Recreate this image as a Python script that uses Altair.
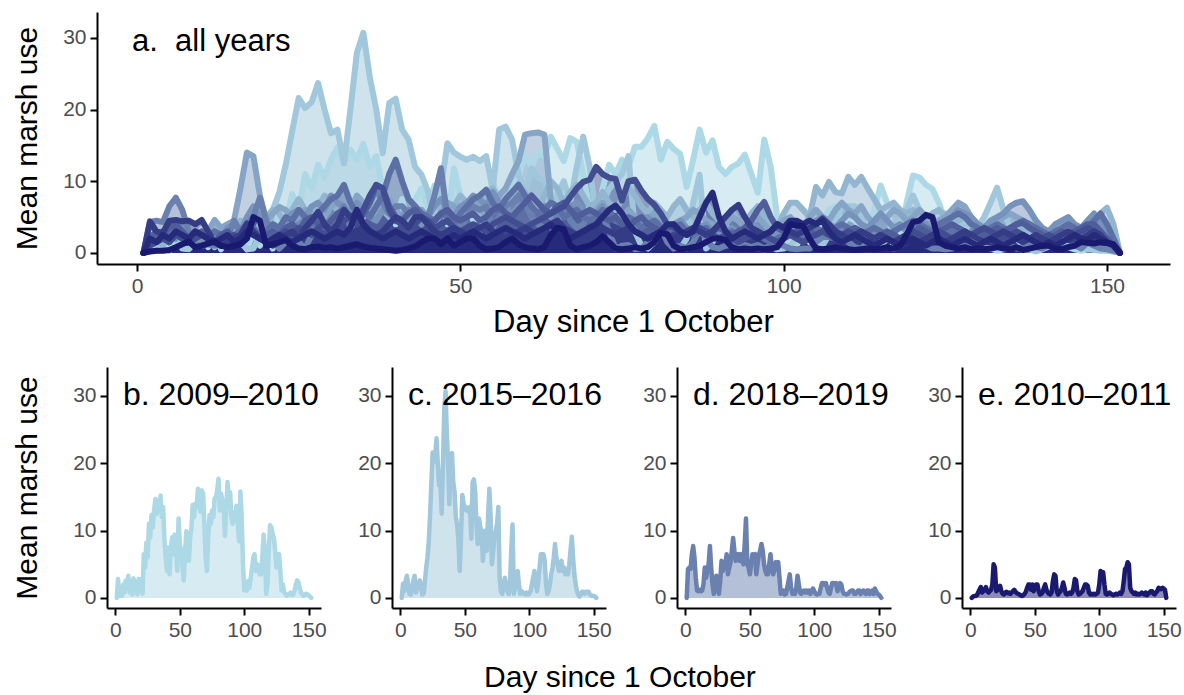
import altair as alt
import pandas as pd

FONT = "Liberation Sans"

DAYS = list(range(1, 153))

# seasons ordered from highest (lightest colour) to lowest (darkest colour) marsh use
SEASONS = ["2009–2010", "2015–2016", "2016–2017", "2012–2013", "2019–2020", "2018–2019",
           "2013–2014", "2017–2018", "2014–2015", "2011–2012", "2008–2009", "2010–2011"]
COLORS = ["#ADD8E6", "#A0C7DB", "#92B5D0", "#85A4C6", "#7792BB", "#6A81B0",
          "#5C70A6", "#4F5E9B", "#414D90", "#343C86", "#262A7B", "#191970"]

USE_2009_2010 = [0, 2.8, 0.3, 1.2, 0.3, 2.0, 0.8, 2.6, 1.5, 3.3,
                 0.8, 2.5, 0.5, 2.9, 1.2, 2.4, 0.5, 2.8, 1.0, 2.8,
                 0.6, 6.5, 4.5, 8.2, 6.0, 11.0, 9.0, 12.3, 10.5, 13.0,
                 14.7, 12.5, 14.4, 13.0, 15.2, 12.0, 13.5, 8.9, 6.0, 4.0,
                 7.5, 3.5, 7.4, 9.0, 6.5, 9.4, 7.5, 4.0, 11.8, 8.0,
                 7.0, 4.5, 2.6, 6.5, 9.9, 7.5, 5.5, 9.0, 10.5, 13.8,
                 12.0, 14.0, 13.5, 16.2, 14.5, 12.8, 16.0, 15.5, 11.0, 6.0,
                 4.0, 9.0, 12.3, 11.0, 13.0, 12.0, 14.8, 14.8, 16.0, 17.7,
                 13.0, 15.5, 14.5, 13.8, 9.2, 13.0, 17.2, 14.0, 15.7, 12.0,
                 11.0, 12.0, 12.5, 13.7, 11.0, 8.4, 15.8, 12.0, 5.0, 1.1,
                 2.0, 1.1, 2.5, 1.5, 3.0, 4.5, 6.0, 6.5, 4.0, 5.0,
                 4.5, 3.5, 3.5, 6.0, 9.4, 7.0, 0.6, 2.0, 7.0, 10.8,
                 10.5, 9.5, 8.9, 7.0, 4.5, 5.5, 6.5, 4.0, 1.1, 2.0,
                 0.8, 0.6, 0.3, 0.5, 0.6, 0.8, 0.4, 0.5, 1.0, 2.0,
                 2.6, 2.4, 1.5, 0.8, 0.5, 0.3, 0.5, 0.6, 0.5, 0.4,
                 0.2, 0.0]

USE_2015_2016 = [0, 2.1, 1.0, 2.5, 3.3, 2.0, 0.6, 0.5, 1.5, 2.5,
                 3.3, 0.8, 1.5, 2.0, 2.6, 1.5, 0.5, 0.6, 2.5, 4.5,
                 6.0, 8.4, 12.3, 17.0, 21.6, 20.2, 21.0, 23.7, 20.0, 16.7,
                 17.2, 12.5, 20.0, 27.9, 30.7, 24.5, 20.0, 13.9, 20.9, 21.5,
                 17.2, 15.8, 12.0, 10.9, 8.6, 4.0, 9.0, 15.3, 14.0, 13.4,
                 13.0, 13.4, 12.8, 13.5, 8.8, 17.2, 17.6, 15.8, 10.9, 8.0,
                 11.8, 10.5, 9.9, 5.5, 8.0, 10.0, 7.0, 12.0, 16.2, 12.0,
                 5.0, 7.0, 8.9, 10.0, 11.0, 13.5, 3.0, 1.0, 0.6, 1.5,
                 3.0, 2.0, 1.0, 0.6, 2.0, 7.0, 10.9, 0.6, 1.5, 3.0,
                 4.0, 2.0, 0.6, 1.0, 0.8, 0.6, 0.5, 0.8, 0.5, 0.6,
                 1.0, 2.0, 3.0, 4.0, 2.0, 1.0, 2.5, 4.5, 6.5, 6.5,
                 6.5, 5.5, 2.0, 0.6, 1.0, 2.0, 3.5, 4.5, 6.0, 8.0,
                 6.0, 5.0, 4.0, 4.5, 5.5, 4.0, 4.5, 3.5, 4.0, 3.5,
                 5.0, 7.0, 9.1, 6.0, 3.5, 2.0, 1.0, 0.5, 0.2, 0.5,
                 0.9, 0.9, 0.6, 0.9, 0.9, 0.9, 0.5, 0.4, 0.3, 0.3,
                 0.2, 0.0]

USE_2016_2017 = [0, 1.5, 2.0, 1.0, 2.5, 3.0, 2.0, 1.5, 2.0, 3.0,
                 2.5, 3.5, 3.0, 2.0, 3.5, 4.5, 3.0, 2.5, 4.0, 5.0,
                 6.0, 5.5, 4.0, 6.0, 7.5, 6.0, 5.0, 6.5, 8.0, 7.0,
                 6.0, 5.5, 7.0, 6.5, 5.0, 6.0, 7.5, 6.0, 5.0, 4.5,
                 5.5, 6.0, 5.0, 4.0, 5.5, 7.0, 6.0, 5.0, 6.5, 8.0,
                 7.0, 6.5, 5.5, 8.0, 9.0, 7.5, 6.0, 8.0, 9.5, 8.5,
                 7.0, 6.0, 8.0, 10.0, 9.0, 7.0, 8.5, 9.5, 8.0, 6.5,
                 7.0, 8.5, 7.0, 6.0, 7.5, 9.0, 8.0, 6.5, 5.5, 7.0,
                 6.0, 5.0, 6.5, 7.5, 6.0, 5.0, 6.0, 7.0, 5.5, 4.5,
                 5.0, 6.0, 4.5, 4.0, 5.5, 6.5, 5.0, 4.0, 3.5, 5.5,
                 7.0, 7.0, 6.0, 5.0, 9.2, 8.0, 9.9, 8.5, 8.3, 10.6,
                 9.5, 10.6, 9.0, 7.5, 6.0, 6.5, 7.0, 6.0, 5.5, 6.0,
                 5.0, 4.5, 5.5, 6.0, 5.0, 4.0, 4.5, 5.0, 4.0, 3.5,
                 3.0, 3.5, 4.0, 3.0, 2.5, 3.0, 3.5, 2.5, 2.0, 2.5,
                 3.0, 2.5, 2.0, 3.0, 3.5, 2.5, 3.0, 4.5, 5.5, 6.3,
                 4.0, 0.0]

USE_2012_2013 = [0, 2.0, 3.0, 2.5, 4.0, 3.5, 2.0, 1.5, 2.5, 2.0,
                 3.0, 4.6, 3.5, 4.0, 4.5, 9.0, 14.0, 13.5, 8.0, 4.5,
                 5.5, 6.4, 6.0, 4.5, 5.0, 6.0, 5.5, 4.0, 5.0, 6.5,
                 7.0, 5.5, 6.0, 8.0, 7.0, 6.0, 5.0, 6.5, 7.5, 6.0,
                 5.0, 4.5, 5.5, 6.0, 5.0, 4.0, 5.5, 7.0, 6.5, 5.5,
                 6.0, 7.5, 6.5, 5.0, 6.0, 8.0, 9.0, 11.0, 12.8, 16.5,
                 16.7, 16.8, 16.5, 7.3, 6.0, 5.0, 6.5, 7.0, 5.5, 5.0,
                 6.0, 7.0, 5.5, 4.5, 5.0, 6.0, 5.0, 4.0, 4.5, 5.5,
                 5.0, 4.0, 3.5, 4.5, 5.0, 6.0, 5.5, 4.5, 4.0, 3.5,
                 4.0, 5.0, 4.5, 3.5, 4.0, 5.0, 4.0, 3.0, 3.5, 4.5,
                 5.0, 4.0, 3.5, 5.0, 6.0, 5.0, 4.5, 6.0, 7.0, 6.0,
                 5.5, 6.5, 5.0, 4.0, 4.5, 5.0, 6.0, 5.5, 4.5, 5.0,
                 6.0, 5.0, 4.0, 4.5, 5.0, 6.0, 7.0, 6.5, 5.0, 4.0,
                 3.5, 4.0, 4.5, 5.0, 5.5, 5.0, 4.5, 4.0, 3.5, 3.0,
                 3.0, 2.5, 3.5, 4.0, 3.5, 3.0, 4.0, 5.0, 4.0, 3.0,
                 2.0, 0.0]

USE_2019_2020 = [0, 1.0, 2.0, 3.0, 2.5, 2.0, 3.5, 3.0, 2.0, 1.5,
                 2.5, 3.0, 2.0, 3.5, 4.0, 3.0, 5.0, 6.5, 5.0, 3.5,
                 4.0, 3.0, 4.5, 5.5, 6.0, 5.0, 6.5, 7.0, 6.0, 8.0,
                 7.0, 6.5, 5.5, 7.0, 6.0, 5.0, 4.5, 6.0, 5.5, 4.5,
                 5.0, 6.0, 5.5, 4.0, 5.0, 6.5, 7.5, 6.0, 5.0, 6.5,
                 7.0, 8.0, 7.5, 6.5, 8.5, 7.0, 6.0, 5.5, 6.5, 7.0,
                 6.0, 5.5, 6.5, 5.0, 4.5, 5.5, 6.5, 7.0, 6.0, 5.0,
                 5.5, 6.5, 5.0, 4.5, 5.5, 4.0, 3.5, 4.5, 5.0, 4.0,
                 3.5, 3.0, 4.0, 4.5, 3.5, 3.0, 3.5, 4.0, 3.0, 2.5,
                 3.0, 3.5, 2.5, 3.0, 4.0, 3.5, 2.5, 2.0, 3.0, 3.5,
                 4.0, 3.0, 2.5, 3.5, 4.5, 5.0, 4.0, 3.5, 4.5, 5.5,
                 5.0, 4.0, 3.5, 4.5, 5.5, 4.5, 3.5, 4.0, 3.0, 3.5,
                 4.5, 4.0, 3.0, 3.5, 4.0, 5.0, 6.0, 5.5, 5.0, 4.0,
                 3.5, 4.5, 5.0, 5.5, 6.5, 7.0, 7.2, 6.0, 4.5, 3.5,
                 3.0, 4.0, 4.5, 5.0, 4.0, 3.5, 4.5, 5.5, 4.0, 2.5,
                 1.5, 0.0]

USE_2018_2019 = [0, 4.3, 4.5, 4.3, 6.5, 7.7, 6.0, 3.0, 1.1, 1.0,
                 1.2, 1.0, 1.1, 2.0, 4.5, 3.0, 4.0, 5.0, 7.7, 4.5,
                 2.0, 0.6, 1.5, 3.3, 1.5, 0.6, 2.5, 5.5, 4.0, 4.5,
                 5.0, 6.5, 3.5, 4.5, 5.3, 7.0, 8.9, 7.0, 5.5, 6.5,
                 6.5, 5.5, 6.5, 5.5, 5.0, 8.0, 11.8, 5.0, 4.5, 3.5,
                 5.0, 6.5, 6.0, 6.5, 3.5, 5.0, 6.5, 7.0, 8.0, 7.0,
                 5.0, 4.0, 3.5, 3.5, 5.0, 6.5, 4.5, 3.5, 4.0, 5.3,
                 5.0, 5.3, 3.0, 0.6, 1.0, 1.1, 0.5, 0.6, 1.5, 2.5,
                 3.5, 1.5, 0.6, 1.0, 0.6, 1.5, 3.3, 2.0, 0.8, 0.6,
                 1.0, 1.1, 0.8, 1.1, 0.8, 1.1, 0.6, 1.0, 1.4, 1.0,
                 0.6, 0.5, 0.6, 0.6, 1.5, 2.2, 2.2, 2.0, 2.2, 1.5,
                 0.8, 0.6, 1.5, 2.2, 2.2, 2.0, 2.2, 1.0, 1.5, 2.2,
                 2.0, 1.0, 0.6, 0.6, 0.5, 0.6, 0.8, 1.0, 1.1, 1.1,
                 0.6, 0.6, 0.8, 1.1, 1.1, 0.6, 0.8, 1.1, 0.8, 0.6,
                 1.1, 1.1, 0.6, 0.8, 1.1, 0.6, 1.4, 1.0, 0.6, 0.5,
                 0.3, 0.0]

USE_2013_2014 = [0, 1.5, 2.5, 3.0, 2.0, 3.5, 2.5, 2.0, 3.0, 2.5,
                 2.0, 3.0, 2.5, 1.5, 2.5, 3.0, 4.0, 3.5, 2.5, 3.0,
                 4.0, 3.5, 5.0, 4.5, 6.0, 5.0, 4.0, 5.5, 6.5, 7.5,
                 8.0, 9.5, 7.0, 5.5, 6.0, 5.0, 6.5, 8.0, 11.0, 13.0,
                 10.0, 7.5, 6.5, 5.5, 5.0, 4.5, 5.5, 5.0, 4.0, 5.5,
                 6.5, 7.5, 8.0, 8.8, 7.0, 6.0, 7.5, 8.5, 9.5, 8.0,
                 6.5, 5.5, 6.0, 7.0, 6.5, 5.0, 5.5, 6.0, 5.0, 4.5,
                 5.0, 6.0, 5.5, 4.5, 4.0, 5.0, 4.5, 3.5, 4.0, 4.5,
                 3.5, 3.0, 3.5, 4.0, 3.0, 2.5, 3.0, 3.5, 2.5, 2.0,
                 2.5, 3.0, 2.0, 2.5, 3.0, 2.5, 2.0, 1.5, 2.0, 2.5,
                 3.0, 2.5, 2.0, 3.0, 3.5, 3.0, 2.5, 3.5, 4.0, 3.5,
                 3.0, 2.5, 3.0, 3.5, 3.0, 2.5, 3.0, 3.5, 4.0, 4.5,
                 4.0, 3.5, 3.0, 4.0, 4.5, 5.0, 5.5, 5.0, 4.0, 3.5,
                 3.0, 3.5, 4.0, 3.5, 3.0, 4.0, 4.5, 4.0, 3.5, 3.0,
                 2.5, 3.0, 3.5, 4.0, 3.5, 3.0, 3.5, 4.5, 5.5, 4.0,
                 2.0, 0.0]

USE_2017_2018 = [0, 2.0, 3.0, 2.5, 3.5, 4.0, 3.0, 2.0, 2.5, 3.0,
                 2.0, 1.5, 2.5, 3.0, 2.0, 2.5, 3.5, 3.0, 2.0, 2.5,
                 3.0, 2.5, 3.5, 4.0, 3.0, 4.5, 5.0, 4.0, 3.5, 4.5,
                 5.5, 6.0, 5.0, 4.0, 5.5, 7.0, 9.5, 9.0, 6.5, 5.0,
                 4.5, 5.5, 6.0, 5.0, 4.0, 4.5, 5.5, 6.0, 5.0, 4.5,
                 5.0, 5.5, 4.5, 5.0, 6.0, 6.5, 5.5, 5.0, 6.0, 7.0,
                 8.0, 7.0, 6.0, 5.5, 6.5, 7.0, 6.0, 5.0, 5.5, 6.0,
                 5.5, 5.0, 4.5, 5.0, 4.0, 3.5, 4.5, 5.0, 4.0, 3.5,
                 3.0, 3.5, 4.0, 3.0, 2.5, 3.0, 3.5, 2.5, 3.0, 3.5,
                 3.0, 2.5, 3.0, 3.5, 4.5, 6.0, 7.1, 5.0, 3.5, 3.0,
                 2.5, 3.0, 3.5, 3.0, 2.5, 3.0, 2.5, 2.0, 2.5, 3.0,
                 3.5, 3.0, 2.5, 2.0, 2.5, 3.0, 2.5, 2.0, 2.5, 3.0,
                 3.5, 3.0, 2.5, 3.0, 3.5, 4.0, 3.5, 3.0, 2.5, 3.0,
                 2.5, 3.0, 3.5, 3.0, 3.5, 4.0, 4.2, 3.5, 3.0, 2.5,
                 2.0, 2.5, 3.0, 2.5, 3.0, 3.5, 4.0, 4.0, 3.0, 2.0,
                 1.0, 0.0]

USE_2014_2015 = [0, 1.0, 1.5, 2.0, 1.5, 2.5, 2.0, 1.5, 2.0, 2.5,
                 2.0, 1.5, 1.0, 2.0, 2.5, 2.0, 3.0, 2.5, 2.0, 1.5,
                 2.0, 2.5, 3.0, 2.5, 3.5, 3.0, 2.5, 3.5, 4.0, 3.0,
                 3.5, 4.5, 5.0, 4.0, 6.0, 8.0, 9.5, 9.0, 6.0, 4.5,
                 4.0, 3.5, 4.0, 5.0, 4.5, 3.5, 4.0, 4.5, 3.5, 3.0,
                 3.5, 4.0, 3.5, 3.0, 4.0, 4.5, 5.0, 4.5, 4.0, 3.5,
                 4.0, 4.5, 5.0, 5.5, 6.0, 6.5, 7.8, 9.0, 9.9, 10.2,
                 12.0, 11.0, 10.5, 10.3, 7.3, 10.0, 10.2, 8.7, 7.5, 6.7,
                 5.5, 4.0, 3.5, 3.0, 2.5, 3.0, 3.5, 3.0, 2.5, 2.0,
                 2.5, 2.0, 1.5, 2.0, 2.5, 3.0, 2.5, 2.0, 1.5, 2.0,
                 2.5, 2.0, 1.5, 2.0, 2.5, 3.0, 2.5, 2.0, 2.5, 3.0,
                 2.5, 2.0, 1.5, 2.0, 2.5, 2.0, 1.5, 2.0, 2.5, 3.0,
                 2.5, 2.0, 2.5, 3.0, 2.5, 2.0, 1.5, 2.0, 2.5, 3.0,
                 3.5, 3.0, 2.5, 2.0, 2.5, 3.0, 2.5, 2.0, 1.5, 2.0,
                 2.5, 2.0, 1.5, 2.0, 2.5, 3.0, 3.5, 3.0, 2.0, 1.5,
                 1.0, 0.0]

USE_2011_2012 = [0, 4.4, 3.0, 2.8, 4.5, 4.6, 4.4, 4.5, 4.0, 4.6,
                 3.0, 1.4, 1.0, 1.5, 2.0, 2.5, 4.1, 3.0, 2.0, 1.5,
                 1.0, 1.5, 2.5, 3.0, 2.0, 3.5, 4.5, 5.7, 4.0, 3.0,
                 4.0, 6.0, 5.0, 5.6, 4.0, 3.0, 2.5, 3.0, 4.0, 5.0,
                 4.5, 3.5, 5.0, 5.0, 4.0, 3.0, 2.5, 3.0, 3.5, 3.0,
                 2.5, 3.0, 3.5, 4.0, 3.0, 2.5, 2.0, 2.5, 3.0, 3.5,
                 3.0, 2.5, 3.0, 4.0, 4.5, 3.5, 3.0, 2.5, 3.0, 3.5,
                 4.0, 3.5, 3.0, 2.5, 3.0, 3.5, 3.0, 2.5, 2.0, 2.5,
                 3.0, 2.5, 2.0, 2.5, 3.0, 3.5, 3.0, 2.5, 3.0, 4.0,
                 5.0, 6.0, 6.7, 5.0, 3.5, 3.0, 2.5, 3.0, 4.0, 3.5,
                 3.0, 2.5, 3.0, 3.5, 4.0, 4.8, 4.0, 3.0, 2.5, 2.0,
                 2.5, 3.0, 2.5, 2.0, 2.5, 2.0, 1.5, 2.0, 2.5, 2.0,
                 1.5, 2.0, 2.5, 2.0, 1.5, 2.0, 2.5, 3.0, 2.5, 2.0,
                 1.5, 2.0, 2.5, 3.0, 2.5, 2.0, 1.5, 2.0, 2.5, 2.0,
                 1.5, 2.0, 2.5, 3.0, 2.5, 2.0, 2.5, 3.0, 2.5, 1.5,
                 1.0, 0.0]

USE_2008_2009 = [0, 2.0, 1.5, 2.5, 2.0, 3.0, 2.5, 2.0, 3.0, 2.5,
                 2.0, 1.5, 2.0, 2.5, 1.5, 2.0, 3.0, 2.5, 2.0, 1.5,
                 2.0, 2.5, 2.0, 1.5, 2.0, 2.5, 3.0, 2.5, 2.0, 2.5,
                 3.0, 2.5, 3.5, 6.0, 4.0, 3.0, 2.5, 2.0, 2.5, 3.0,
                 2.5, 2.0, 2.5, 3.0, 2.5, 2.0, 1.5, 2.0, 2.5, 2.0,
                 2.5, 3.0, 2.5, 2.0, 2.5, 3.0, 3.5, 3.0, 2.5, 2.0,
                 2.5, 3.0, 3.5, 4.0, 3.0, 2.5, 2.0, 2.5, 3.0, 3.5,
                 4.0, 5.0, 6.0, 6.6, 5.5, 4.0, 3.0, 2.5, 2.0, 2.5,
                 3.0, 4.0, 4.0, 3.0, 2.5, 3.0, 5.0, 7.0, 8.4, 5.0,
                 3.0, 2.0, 2.5, 3.0, 2.5, 2.0, 2.5, 3.0, 4.0, 3.5,
                 4.5, 4.5, 4.0, 4.5, 4.0, 4.5, 3.0, 2.0, 1.5, 2.0,
                 2.5, 2.0, 1.5, 1.0, 1.5, 2.0, 1.5, 1.0, 1.5, 2.0,
                 1.5, 1.0, 1.5, 2.0, 1.5, 1.0, 1.5, 2.0, 1.5, 1.0,
                 1.5, 2.0, 1.5, 1.0, 1.5, 2.0, 2.5, 2.0, 1.5, 1.0,
                 1.5, 1.0, 1.5, 2.0, 2.5, 2.0, 1.8, 2.5, 2.0, 1.5,
                 1.0, 0.0]

USE_2010_2011 = [0, 0.2, 0.3, 0.3, 0.4, 0.8, 1.2, 1.6, 0.8, 1.0,
                 1.3, 1.6, 1.0, 0.8, 1.0, 1.2, 2.0, 5.0, 4.5, 1.0,
                 1.2, 1.5, 1.8, 1.0, 0.6, 0.5, 0.8, 0.9, 0.7, 0.8,
                 0.6, 0.8, 1.0, 1.2, 0.9, 0.7, 0.6, 0.5, 0.4, 0.3,
                 0.4, 0.6, 0.9, 1.5, 2.0, 2.0, 1.2, 2.0, 1.0, 1.5,
                 2.0, 2.0, 1.0, 0.5, 0.6, 0.8, 1.5, 2.0, 1.2, 0.8,
                 0.6, 0.5, 0.8, 2.5, 3.5, 3.3, 1.0, 0.5, 0.8, 1.0,
                 1.5, 2.3, 1.5, 0.6, 0.5, 0.6, 0.8, 0.6, 0.8, 1.5,
                 2.8, 2.6, 1.0, 0.5, 0.6, 0.8, 1.0, 1.5, 2.0, 2.0,
                 1.8, 0.8, 0.5, 0.6, 0.5, 0.6, 0.5, 0.6, 0.8, 2.0,
                 4.0, 3.8, 3.8, 2.0, 0.6, 0.5, 0.6, 0.8, 0.6, 0.5,
                 0.4, 0.5, 0.6, 0.5, 0.6, 0.8, 0.6, 1.0, 2.5, 4.3,
                 4.5, 5.3, 5.0, 1.5, 1.0, 0.8, 0.6, 0.8, 0.5, 0.6,
                 0.5, 0.6, 0.8, 0.6, 0.5, 0.8, 0.4, 0.6, 0.8, 1.0,
                 1.0, 0.6, 0.5, 0.8, 1.0, 1.5, 1.4, 1.3, 1.5, 1.4,
                 1.2, 0.0]

SERIES = [USE_2009_2010, USE_2015_2016, USE_2016_2017, USE_2012_2013, USE_2019_2020,
          USE_2018_2019, USE_2013_2014, USE_2017_2018, USE_2014_2015, USE_2011_2012,
          USE_2008_2009, USE_2010_2011]

for s, v in zip(SEASONS, SERIES):
    assert len(v) == len(DAYS), (s, len(v))

PANELS = [("b. 2009–2010", "2009–2010"), ("c. 2015–2016", "2015–2016"),
          ("d. 2018–2019", "2018–2019"), ("e. 2010–2011", "2010–2011")]

KEYS = [f"{i:02d} {s}" for i, s in enumerate(SEASONS)]
rows = []
for key, season, vals in zip(KEYS, SEASONS, SERIES):
    for d, v in zip(DAYS, vals):
        rows.append({"key": key, "season": season, "day": d, "use": v})
df = pd.DataFrame(rows)

color_scale = alt.Scale(domain=KEYS, range=COLORS)
# top panel: y axis drawn 10px left of the shared column origin
TOP_W = 1063
x_top_scale = alt.Scale(domain=[-6.186, 159.74], range=[-10, TOP_W], nice=False, zero=False)
x_bot_scale = alt.Scale(domain=[-6.55, 159.55], nice=False, zero=False)
y_top_scale = alt.Scale(domain=[-1.55, 33.6], nice=False, zero=False)
y_bot_scale = alt.Scale(domain=[-1.5, 34.3], nice=False, zero=False)

AX = dict(domainColor="black", domainWidth=2, tickColor="black", tickWidth=2, tickSize=7,
          labelColor="#4D4D4D", labelFontSize=21, labelFont=FONT, titleFont=FONT,
          titleColor="black", titleFontWeight="normal", grid=False, labelPadding=4)

# ---- panel a: all years ----
x_top = alt.X("day:Q", scale=x_top_scale,
              axis=alt.Axis(values=[0, 50, 100, 150], title="Day since 1 October",
                            titlePadding=11, titleFontSize=31, titleX=526, **AX))
y_top = alt.Y("use:Q", scale=y_top_scale, stack=False,
              axis=alt.Axis(values=[0, 10, 20, 30], title="Mean marsh use", offset=10,
                            titlePadding=20, titleFontSize=30, **AX))
col = alt.Color("key:N", scale=color_scale, legend=None)

top_area = alt.Chart(df).mark_area(opacity=0.5).encode(x=x_top, y=y_top, color=col)
top_line = alt.Chart(df).mark_line(strokeWidth=6, strokeCap="round", strokeJoin="round").encode(
    x=x_top, y=y_top, color=col)
top_label = alt.Chart(pd.DataFrame({"t": ["a.\u00a0 all years"]})).mark_text(
    align="left", baseline="middle", font=FONT, fontSize=31, color="black").encode(
    x=alt.value(25), y=alt.value(30), text="t:N")

top = alt.layer(top_area, top_line, top_label).properties(width=TOP_W, height=252)

# ---- panels b-e ----
panels = []
for i, (label, season) in enumerate(PANELS):
    sub = df[df["season"] == season]
    yax = dict(values=[0, 10, 20, 30], **AX)
    if i == 0:
        y_enc = alt.Y("use:Q", scale=y_bot_scale, stack=False,
                      axis=alt.Axis(title="Mean marsh use", titlePadding=30, titleFontSize=30, **yax))
    else:
        y_enc = alt.Y("use:Q", scale=y_bot_scale, stack=False,
                      axis=alt.Axis(title=None, **yax))
    x_enc = alt.X("day:Q", scale=x_bot_scale,
                  axis=alt.Axis(values=[0, 50, 100, 150], title=None, **AX))
    area = alt.Chart(sub).mark_area(opacity=0.5).encode(x=x_enc, y=y_enc, color=col)
    line = alt.Chart(sub).mark_line(strokeWidth=4.5, strokeCap="round", strokeJoin="round").encode(
        x=x_enc, y=y_enc, color=col)
    lab = alt.Chart(pd.DataFrame({"t": [label]})).mark_text(
        align="left", baseline="middle", font=FONT, fontSize=32, color="black").encode(
        x=alt.value(16), y=alt.value(28), text="t:N")
    panels.append(alt.layer(area, line, lab).properties(width=214, height=241))

bottom = alt.hconcat(*panels, spacing=30).properties(
    title=alt.TitleParams("Day since 1 October", orient="bottom", anchor="middle",
                          font=FONT, fontSize=30, fontWeight="normal", color="black",
                          offset=23, dx=23))

chart = alt.vconcat(top, bottom, spacing=30).properties(
    padding={"left": 12, "top": 12, "right": 2, "bottom": 0}
).configure(font=FONT).configure_view(stroke=None)

chart.save("out.html", embed_options={"renderer": "svg", "actions": False})
